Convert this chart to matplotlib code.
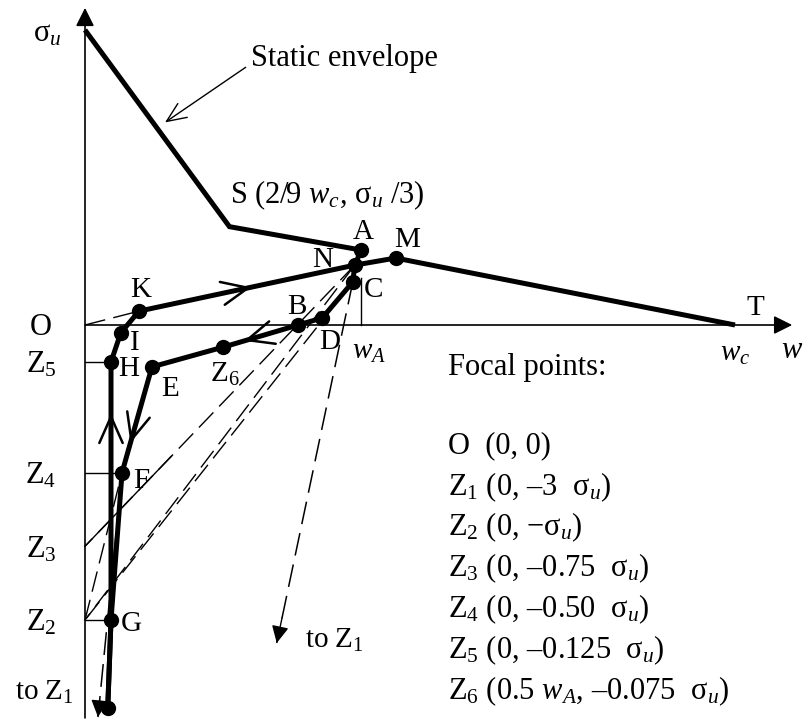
import matplotlib.pyplot as plt
import numpy as np

plt.rcParams['font.family'] = ['Liberation Serif', 'DejaVu Serif']
plt.rcParams['mathtext.fontset'] = 'custom'
plt.rcParams['mathtext.rm'] = 'Liberation Serif'
plt.rcParams['mathtext.it'] = 'Liberation Serif:italic'

# --- points of the diagram, w / w_c and sigma / sigma_u ---
point_names = ['top', 'S', 'A', 'M', 'N', 'C', 'D', 'B', 'Z6', 'E', 'F', 'G', 'P',
               'H', 'I', 'K', 'T', 'O', 'Z2', 'Z3', 'Z4', 'Z5']
point_w = [0.0, 2 / 9, 0.425, 0.478, 0.415, 0.412, 0.365, 0.328, 0.2125, 0.103, 0.057,
           0.040, 0.035, 0.040, 0.055, 0.083, 1.0, 0.0, 0.0, 0.0, 0.0, 0.0]
point_s = [1.0, 1 / 3, 0.254, 0.227, 0.203, 0.146, 0.024, 0.0, -0.075, -0.142, -0.5,
           -1.0, -1.298, -0.125, -0.027, 0.047, 0.0, 0.0, -1.0, -0.75, -0.5, -0.125]
pts = {n: (w, s) for n, w, s in zip(point_names, point_w, point_s)}

envelope = ['top', 'S', 'A']
loading = ['K', 'N', 'M', 'T']
unloading = ['A', 'N', 'C', 'D', 'B', 'Z6', 'E', 'F', 'G', 'P']
reloading = ['P', 'G', 'H', 'I', 'K']
dots = ['A', 'M', 'N', 'C', 'D', 'B', 'Z6', 'E', 'F', 'G', 'P', 'H', 'I', 'K']

# focal rays (dashed)
rays = [('O', 'K'), ('N', 'Z3'), ('N', 'Z2'), ('C', 'Z2'), ('Z2', 'F')]
# rays heading to Z1 (off the chart): start point and arrow tip
to_z1_start = ['C', 'F']
to_z1_tip_w = [0.295, 0.020]
to_z1_tip_s = [-1.078, -1.329]

focal_list = ['O  (0, 0)',
              'Z$_1$ (0, \u20133  σ$_u$)',
              'Z$_2$ (0, \u2212σ$_u$)',
              'Z$_3$ (0, \u20130.75  σ$_u$)',
              'Z$_4$ (0, \u20130.50  σ$_u$)',
              'Z$_5$ (0, \u20130.125  σ$_u$)',
              'Z$_6$ (0.5 $w_A$, \u20130.075  σ$_u$)']

fig = plt.figure(figsize=(8.11, 7.2), dpi=100)
ax = fig.add_axes([0, 0, 1, 1])
ax.set_xlim(-85 / 650, 726 / 650)
ax.set_ylim(-395 / 295, 325 / 295)
ax.axis('off')

def xy(names):
    return [pts[n][0] for n in names], [pts[n][1] for n in names]

# axes with arrows
ax.annotate('', xy=(1.088, 0), xytext=(0, 0),
            arrowprops=dict(arrowstyle='-|>', lw=1.2, color='k', mutation_scale=28,
                            shrinkA=0, shrinkB=0))
ax.annotate('', xy=(0, 1.075), xytext=(0, -1.332),
            arrowprops=dict(arrowstyle='-|>', lw=1.2, color='k', mutation_scale=28,
                            shrinkA=0, shrinkB=0))

# thin guide lines
for a, b in [('Z5', 'H'), ('Z4', 'F'), ('Z2', 'G')]:
    ax.plot(*xy([a, b]), color='k', lw=1.0)
ax.plot([pts['A'][0]] * 2, [0, pts['C'][1] + 0.015], color='k', lw=1.0)

# dashed focal rays
for a, b in rays:
    ax.plot(*xy([a, b]), color='k', lw=1.0, dashes=(15, 6))
# solid thin part of N-Z3 near Z3
z3, n = np.array(pts['Z3']), np.array(pts['N'])
seg = np.array([z3, z3 + 0.32 * (n - z3)])
ax.plot(seg[:, 0], seg[:, 1], color='k', lw=1.0)

for name, tw, ts in zip(to_z1_start, to_z1_tip_w, to_z1_tip_s):
    p0 = np.array(pts[name])
    tip = np.array([tw, ts])
    ax.plot([p0[0], tip[0]], [p0[1], tip[1]], color='k', lw=1.1, dashes=(15, 6))
    ax.annotate('', xy=tip, xytext=p0 + 0.93 * (tip - p0),
                arrowprops=dict(arrowstyle='-|>', lw=1.0, color='k', mutation_scale=26,
                                shrinkA=0, shrinkB=0))

# thick paths
for path in [envelope, loading, unloading, reloading]:
    ax.plot(*xy(path), color='k', lw=3.6, solid_joinstyle='miter', solid_capstyle='butt')
ax.plot(*xy(dots), 'o', color='k', ms=10, ls='none')

# direction chevrons along paths
def chevron(a, b, frac):
    pa, pb = np.array(pts[a]), np.array(pts[b])
    head = pa + frac * (pb - pa)
    tail = pa + (frac - 0.08) * (pb - pa)
    ax.annotate('', xy=head, xytext=tail,
                arrowprops=dict(arrowstyle='->,head_length=0.95,head_width=0.42', lw=1.8,
                                color='k', mutation_scale=20, shrinkA=0, shrinkB=0))

chevron('K', 'N', 0.52)
chevron('B', 'Z6', 0.72)
chevron('E', 'F', 0.72)
chevron('G', 'H', 0.80)

# static envelope pointer
tip = np.array(pts['top']) + 0.5 * (np.array(pts['S']) - np.array(pts['top']))
ax.annotate('Static envelope', xy=(tip[0] + 0.012, tip[1] + 0.02), xytext=(0.255, 0.905),
            fontsize=22, va='center', ha='left',
            arrowprops=dict(arrowstyle='->,head_length=0.7,head_width=0.3', lw=1.0,
                            color='k', mutation_scale=20, shrinkA=2, shrinkB=0,
                            relpos=(0, 0.3)))

# point labels: (text, point, dx px, dy px)
labels = [('A', 'A', 2, 18), ('M', 'M', 11, 18), ('N', 'N', -32, 5), ('C', 'C', 21, -8),
          ('B', 'B', -1, 18), ('D', 'D', 7, -24), ('K', 'K', 2, 21), ('I', 'I', 14, -10),
          ('H', 'H', 18, -7), ('E', 'E', 18, -22), ('F', 'F', 19, -8), ('G', 'G', 20, -4),
          ('Z$_6$', 'Z6', 2, -27), ('T', 'T', 20, 17)]
for txt, p, dx, dy in labels:
    ax.annotate(txt, xy=pts[p], xytext=(dx * 0.72, dy * 0.72), textcoords='offset points',
                fontsize=21, ha='center', va='center')

# axis labels
left = [('O', 'O'), ('Z$_5$', 'Z5'), ('Z$_4$', 'Z4'), ('Z$_3$', 'Z3'), ('Z$_2$', 'Z2')]
for txt, p in left:
    ax.annotate(txt, xy=pts[p], xytext=(-44 * 0.72, -3 * 0.72), textcoords='offset points',
                fontsize=22, ha='center', va='center')
ax.text(-0.058, 0.985, 'σ$_u$', fontsize=22, ha='center', va='center')
ax.text(-0.062, -1.245, 'to Z$_1$', fontsize=21, ha='center', va='center')
ax.text(to_z1_tip_w[0] + 0.043, to_z1_tip_s[0] + 0.01, 'to Z$_1$', fontsize=21,
        ha='left', va='center')
ax.text(pts['A'][0] + 0.012, -0.09, '$w_A$', fontsize=21, ha='center', va='center')
ax.text(1.0, -0.1, '$w_c$', fontsize=21, ha='center', va='center')
ax.text(1.088, -0.085, '$w$', fontsize=22, ha='center', va='center')
ax.text(0.223, 0.44, 'S (2/9 $w_c$, σ$_u$ /3)', fontsize=22, ha='left', va='center')

ax.text(0.558, -0.145, 'Focal points:', fontsize=22, ha='left', va='center')
for i, line in enumerate(focal_list):
    ax.text(0.558, -0.41 - i * 0.1385, line, fontsize=22, ha='left', va='center')

fig.savefig('out.png', dpi=100)
